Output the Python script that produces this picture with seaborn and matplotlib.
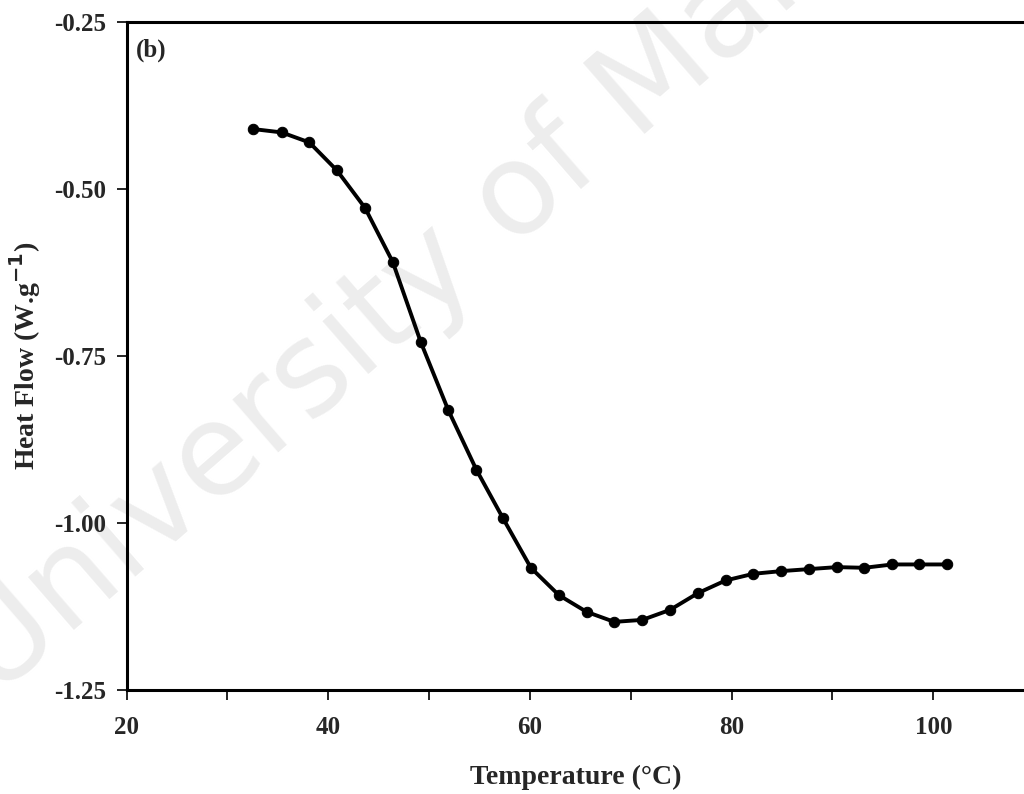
import numpy as np
import pandas as pd
import matplotlib
matplotlib.use("Agg")
import matplotlib.pyplot as plt
from matplotlib.ticker import MultipleLocator
import seaborn as sns

temperature = [32.56, 35.38, 38.12, 40.86, 43.64, 46.39, 49.17, 51.90, 54.68, 57.33,
               60.09, 62.87, 65.62, 68.36, 71.15, 73.90, 76.65, 79.40, 82.16, 84.91,
               87.66, 90.44, 93.17, 95.95, 98.57, 101.35]
heat_flow = [-0.410, -0.415, -0.430, -0.472, -0.528, -0.609, -0.729, -0.831, -0.920, -0.993,
             -1.067, -1.108, -1.133, -1.148, -1.145, -1.130, -1.105, -1.086, -1.076, -1.072,
             -1.069, -1.066, -1.067, -1.062, -1.062, -1.062]
x_ticks = [20, 40, 60, 80, 100]
y_ticks = [-1.25, -1.00, -0.75, -0.50, -0.25]
y_tick_labels = ["-1.25", "-1.00", "-0.75", "-0.50", "-0.25"]

df = pd.DataFrame({"Temperature": temperature, "HeatFlow": heat_flow})

sns.set_theme(style="ticks")
plt.rcParams["font.family"] = ["Liberation Serif", "DejaVu Serif"]
plt.rcParams["font.weight"] = "bold"

fig = plt.figure(figsize=(10.24, 7.94), dpi=100)
ax = fig.add_axes([0.1237, 0.131, 0.8763, 0.841])
ax.set_facecolor("none")
ax.set_zorder(2)

# faint watermark behind the plot
wm = fig.text(-0.005, 0.12, "University of Malaya", fontsize=92, color="#ededed",
              rotation=41, rotation_mode="anchor", family="DejaVu Sans",
              fontweight="normal", ha="left", va="baseline", zorder=0)

sns.lineplot(data=df, x="Temperature", y="HeatFlow", ax=ax, color="black",
             linewidth=2.8, marker="o", markersize=7.5, markeredgecolor="black",
             markerfacecolor="black", sort=False, zorder=5)

ax.set_xlim(20, 109.0)
ax.set_ylim(-1.25, -0.25)
ax.set_xticks(x_ticks)
ax.set_xticklabels([str(t) for t in x_ticks])
ax.xaxis.set_minor_locator(MultipleLocator(10))
ax.set_yticks(y_ticks)
ax.set_yticklabels(y_tick_labels)

for s in ["left", "bottom", "top"]:
    ax.spines[s].set_linewidth(2.2)
    ax.spines[s].set_color("black")
ax.spines["right"].set_visible(False)

ax.tick_params(axis="both", which="both", direction="out", length=7, width=1.2,
               color="black")
ax.tick_params(axis="x", which="major", labelsize=18, pad=12)
ax.tick_params(axis="y", which="major", labelsize=18, pad=8)
for lab in ax.get_xticklabels() + ax.get_yticklabels():
    lab.set_fontweight("bold")

ax.set_xlabel("Temperature (°C)", fontsize=20, fontweight="bold", labelpad=18)
ax.set_ylabel("Heat Flow (W.g$^{\\mathbf{-1}}$)", fontsize=20, fontweight="bold", labelpad=8)

ax.text(0.01, 0.975, "(b)", transform=ax.transAxes, fontsize=18, fontweight="bold",
        ha="left", va="top")

fig.savefig("out.png", dpi=100)
